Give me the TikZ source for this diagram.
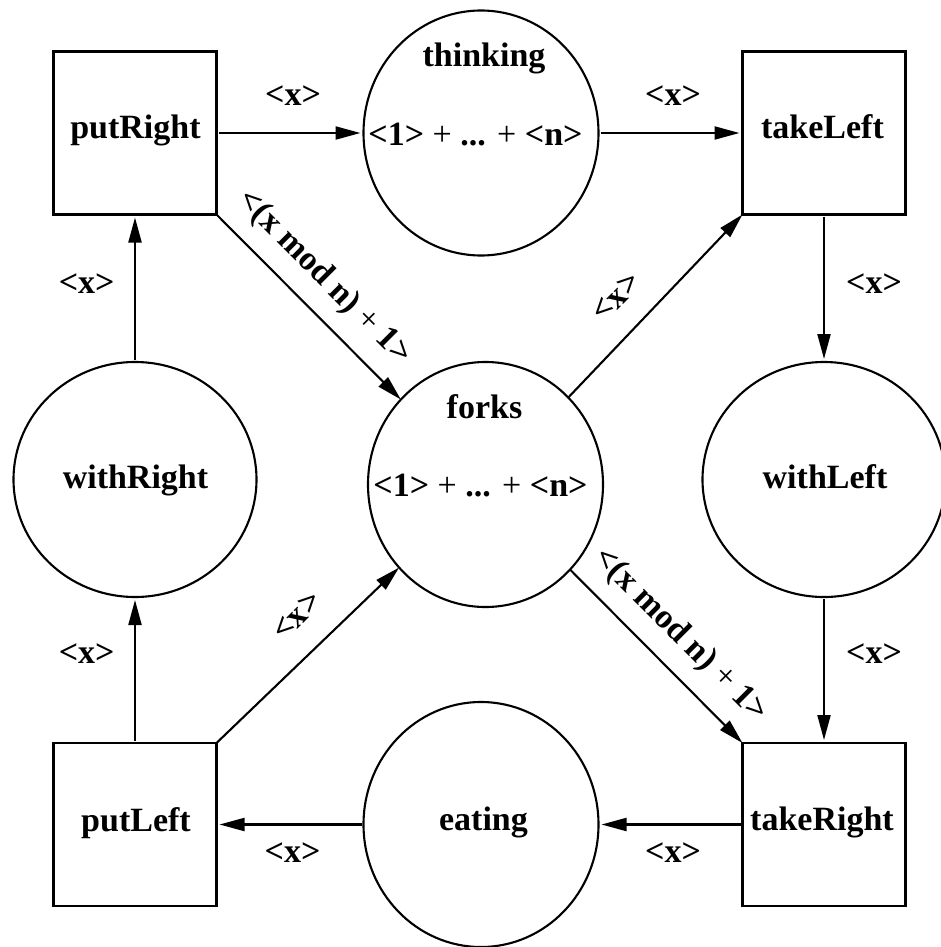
\documentclass[tikz,border=0pt]{standalone}
\usepackage{fontspec}
\setmainfont{Liberation Serif}
\usetikzlibrary{shapes.geometric,arrows.meta}
\begin{document}
\begin{tikzpicture}[x=1pt,y=-1pt,
  every node/.style={inner sep=0pt,outer sep=0pt},
  lbl/.style={font=\fontsize{34}{40}\selectfont\bfseries, anchor=base},
  trans/.style={draw, rectangle, line width=2.4pt, minimum width=163pt, minimum height=163pt},
  placeV/.style={draw, ellipse, line width=2.1pt, minimum width=235pt, minimum height=245pt},
  placeH/.style={draw, ellipse, line width=2.1pt, minimum width=243pt, minimum height=235pt},
  arc/.style={line width=2.1pt, -{Triangle[length=25pt,width=13pt]}},
  sh/.style={shorten <=2pt, shorten >=3pt}
]
\useasboundingbox (0,0) rectangle (940,947);
% transitions
\node[trans] (putRight) at (135,133) {};
\node[trans] (takeLeft) at (824,133) {};
\node[trans] (putLeft) at (135,824.5) {};
\node[trans] (takeRight) at (824,824.5) {};
% places
\node[placeV] (thinking) at (481,133) {};
\node[placeV] (forks) at (485.5,484.5) {};
\node[placeV] (eating) at (481,824.5) {};
\node[placeH] (withRight) at (135,479.5) {};
\node[placeH] (withLeft) at (824,479.5) {};
% texts
\node[lbl] (tPutRight) at (135.5,139) {putRight};
\node[lbl] (tTakeLeft) at (822.5,139) {takeLeft};
\node[lbl] (tPutLeft) at (136,831) {putLeft};
\node[lbl] (tTakeRight) at (822,830) {takeRight};
\node[lbl] (tThinking) at (484,67) {thinking};
\node[lbl] (tThinkingM) at (475.5,145) {<1> {\mdseries+} ... {\mdseries+} <n>};
\node[lbl] (tForks) at (484.5,418) {forks};
\node[lbl] (tForksM) at (480.5,496) {<1> {\mdseries+} ... {\mdseries+} <n>};
\node[lbl] (tWithRight) at (135.5,488) {withRight};
\node[lbl] (tWithLeft) at (825,488) {withLeft};
\node[lbl] (tEating) at (483.5,830) {eating};
% connectors
\draw[arc,sh] (putRight) -- (thinking);
\draw[arc,sh] (thinking) -- (takeLeft);
\draw[arc,sh] (takeLeft) -- (withLeft);
\draw[arc,sh] (withLeft) -- (takeRight);
\draw[arc,sh] (takeRight) -- (eating);
\draw[arc,sh] (eating) -- (putLeft);
\draw[arc,sh] (putLeft) -- (withRight);
\draw[arc,sh] (withRight) -- (putRight);
\draw[arc] (putRight.south east) -- (forks);
\draw[arc] (forks) -- (takeLeft.south west);
\draw[arc] (putLeft.north east) -- (forks);
\draw[arc] (forks) -- (takeRight.north west);
% arc labels
\node[lbl] (x1) at (293,106) {<x>};
\node[lbl] (x2) at (673,106) {<x>};
\node[lbl] (x3) at (874,293) {<x>};
\node[lbl] (x4) at (874,663) {<x>};
\node[lbl] (x5) at (673,862) {<x>};
\node[lbl] (x6) at (292.5,862) {<x>};
\node[lbl] (x7) at (86.7,663) {<x>};
\node[lbl] (x8) at (86.7,293) {<x>};
\node[lbl, anchor=center, rotate=-45] (m1) at (324,278) {<(x mod n) {\mdseries+} 1>};
\node[lbl, anchor=center, rotate=-45] (m2) at (680.5,635.5) {<(x mod n) {\mdseries+} 1>};
\node[lbl, anchor=center, rotate=45] (x10) at (616,297) {<x>};
\node[lbl, anchor=center, rotate=45] (x11) at (297,616) {<x>};
\end{tikzpicture}
\end{document}
